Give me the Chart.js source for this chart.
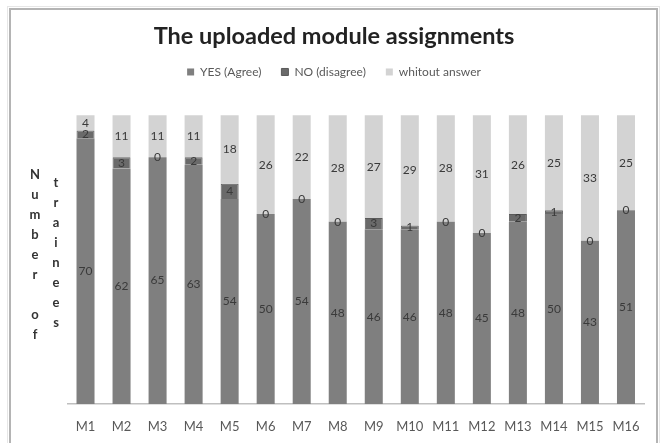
<!DOCTYPE html>
<html>
<head>
<meta charset="utf-8">
<script src="https://cdn.jsdelivr.net/npm/chart.js@4/dist/chart.umd.min.js"></script>
<style>
  html, body { margin: 0; padding: 0; background: #ffffff; }
  canvas { display: block; }
</style>
</head>
<body>
<canvas id="c" width="660" height="443"></canvas>
<script>
// ---- data ----
const categories = ['M1','M2','M3','M4','M5','M6','M7','M8','M9','M10','M11','M12','M13','M14','M15','M16'];
const yesAgree   = [70, 62, 65, 63, 54, 50, 54, 48, 46, 46, 48, 45, 48, 50, 43, 51];
const noDisagree = [2, 3, 0, 2, 4, 0, 0, 0, 3, 1, 0, 0, 2, 1, 0, 0];
const noAnswer   = [4, 11, 11, 11, 18, 26, 22, 28, 27, 29, 28, 31, 26, 25, 33, 25];
const seriesNames = ['YES (Agree)', 'NO (disagree)', 'whitout answer'];
const titleText = 'The uploaded module assignments';
const yTitleCol1 = 'Number of';
const yTitleCol2 = 'trainees';

const FONT = 'Lato, "Open Sans", "DejaVu Sans", sans-serif';

const framePlugin = {
  id: 'frame',
  beforeDraw(chart) {
    const ctx = chart.ctx;
    ctx.save();
    ctx.fillStyle = '#ffffff';
    ctx.fillRect(0, 0, chart.width, chart.height);
    ctx.strokeStyle = '#e6e6e6';
    ctx.lineWidth = 1;
    ctx.strokeRect(7.5, 6.5, 652, 445);
    ctx.strokeStyle = '#b4b4b4';
    ctx.lineWidth = 2;
    ctx.strokeRect(10, 9, 647, 445);
    ctx.restore();
  }
};

const yTitlePlugin = {
  id: 'yTitleStack',
  afterDraw(chart) {
    const ctx = chart.ctx;
    ctx.save();
    ctx.font = 'bold 13px ' + FONT;
    ctx.fillStyle = '#333333';
    ctx.textAlign = 'center';
    ctx.textBaseline = 'middle';
    yTitleCol1.split('').forEach((ch, i) => { if (ch !== ' ') ctx.fillText(ch, 35, 175 + i * 20); });
    yTitleCol2.split('').forEach((ch, i) => { ctx.fillText(ch, 56, 183 + i * 20); });
    ctx.restore();
  }
};

const valueLabelPlugin = {
  id: 'valueLabels',
  afterDatasetsDraw(chart) {
    const ctx = chart.ctx;
    ctx.save();
    ctx.font = '12px ' + FONT;
    ctx.fillStyle = '#3a3a3a';
    ctx.textAlign = 'center';
    ctx.textBaseline = 'middle';
    chart.data.datasets.forEach((ds, i) => {
      const meta = chart.getDatasetMeta(i);
      meta.data.forEach((bar, j) => {
        const p = bar.getProps(['x', 'y', 'base'], true);
        ctx.fillText(String(ds.data[j]), p.x, (p.y + p.base) / 2);
      });
    });
    ctx.restore();
  }
};

new Chart(document.getElementById('c'), {
  type: 'bar',
  data: {
    labels: categories,
    datasets: [
      { label: seriesNames[0], data: yesAgree,   backgroundColor: '#7f7f7f', borderWidth: 0 },
      { label: seriesNames[1], data: noDisagree, backgroundColor: '#6a6a6a', borderColor: '#5a5a5a', borderWidth: 1 },
      { label: seriesNames[2], data: noAnswer,   backgroundColor: '#d3d3d3', borderWidth: 0 }
    ]
  },
  options: {
    responsive: false,
    devicePixelRatio: 1,
    animation: false,
    categoryPercentage: 1,
    barPercentage: 0.5,
    layout: { padding: { left: 8, right: 0, top: 0, bottom: 0 } },
    plugins: {
      tooltip: { enabled: false },
      title: {
        display: true,
        text: titleText,
        color: '#222222',
        font: { family: FONT, size: 23.5, weight: 'bold', lineHeight: 0.85 },
        padding: { top: 26, bottom: 0 }
      },
      subtitle: {
        display: true,
        text: ' ',
        weight: 100,
        font: { family: FONT, size: 10, lineHeight: 1 },
        padding: { top: 0, bottom: 2.2 }
      },
      legend: {
        display: true,
        position: 'top',
        labels: {
          color: '#595959',
          font: { family: FONT, size: 12 },
          boxWidth: 7,
          boxHeight: 7,
          padding: 20
        }
      }
    },
    scales: {
      x: {
        stacked: true,
        grid: { display: false, drawTicks: false },
        border: { display: true, color: '#bfbfbf', width: 1.5 },
        ticks: { color: '#595959', font: { family: FONT, size: 13 }, padding: 15 },
        afterFit(s) { s.height = 39; }
      },
      y: {
        stacked: true,
        min: 0,
        max: 80,
        display: true,
        grid: { display: false, drawTicks: false },
        border: { display: false },
        ticks: { display: false },
        afterFit(s) { s.width = 59.5; }
      },
      y2: {
        position: 'right',
        display: true,
        grid: { display: false, drawTicks: false },
        border: { display: false },
        ticks: { display: false },
        afterFit(s) { s.width = 16; }
      }
    }
  },
  plugins: [framePlugin, yTitlePlugin, valueLabelPlugin]
});
</script>
</body>
</html>
